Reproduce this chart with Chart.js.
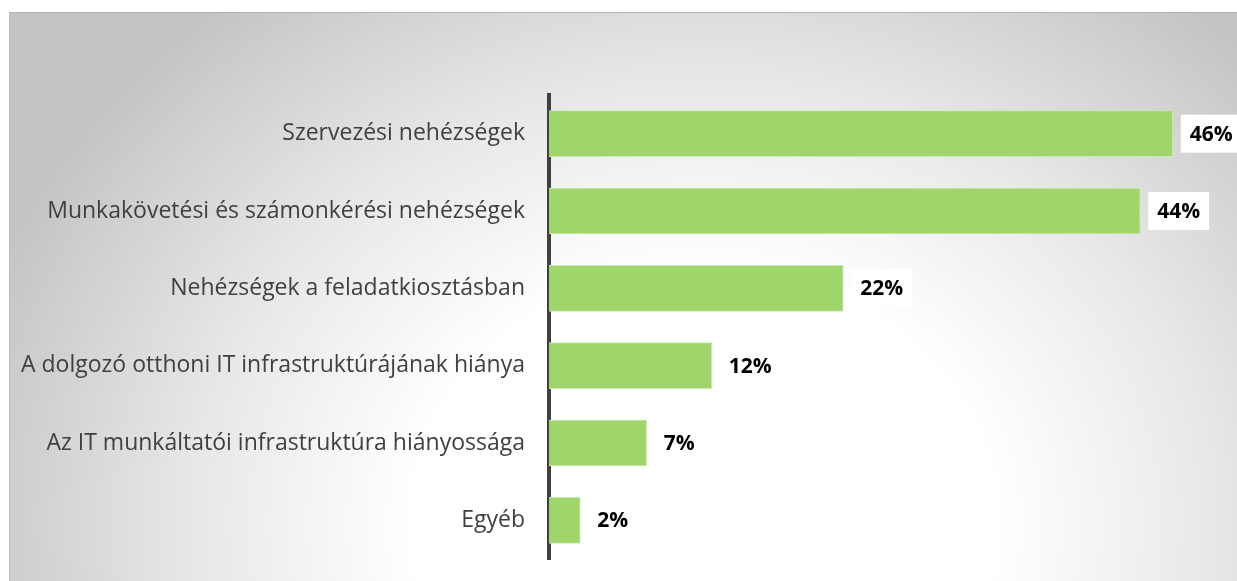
<!DOCTYPE html>
<html>
<head>
<meta charset="utf-8">
<script src="https://cdn.jsdelivr.net/npm/chart.js@4/dist/chart.umd.min.js"></script>
<style>
    html, body { margin: 0; padding: 0; background: #fff; }
    #wrap { position: relative; width: 1237px; height: 581px; overflow: hidden; }
    #panel {
        position: absolute; left: 9px; top: 12px; width: 1240px; height: 580px;
        background: radial-gradient(ellipse 62% 115% at 56% 88%, #ffffff 0%, #ffffff 38%, #e8e8e8 66%, #c4c4c4 100%);
        border-top: 1px solid #b4b4b4;
        border-left: 1px solid #bdbdbd;
    }
    #chart { position: absolute; left: 0; top: 0; }
</style>
</head>
<body>
<div id="wrap">
    <div id="panel"></div>
    <canvas id="chart" width="1237" height="581"></canvas>
</div>
<script>
// categories and values
const categories = [
    'Szervezési nehézségek',
    'Munkakövetési és számonkérési nehézségek',
    'Nehézségek a feladatkiosztásban',
    'A dolgozó otthoni IT infrastruktúrájának hiánya',
    'Az IT munkáltatói infrastruktúra hiányossága',
    'Egyéb'
];
const shares = [46, 43.6, 21.7, 12, 7.2, 2.3];

const axisLeft = 549;

// Draw the % labels with a white box behind them
const valueLabels = {
    id: 'valueLabels',
    afterDatasetsDraw(chart) {
        const ctx = chart.ctx;
        const meta = chart.getDatasetMeta(0);
        ctx.save();
        ctx.font = 'bold 21px "Open Sans"';
        ctx.textBaseline = 'middle';
        ctx.textAlign = 'left';
        meta.data.forEach((bar, i) => {
            const txt = Math.round(shares[i]) + '%';
            const x = bar.x + 17;
            const w = ctx.measureText(txt).width;
            ctx.fillStyle = '#ffffff';
            ctx.fillRect(x - 9, bar.y - 19, w + 18, 38);
            ctx.fillStyle = '#000000';
            ctx.fillText(txt, x, bar.y + 1);
        });
        ctx.restore();
    }
};

const ctx = document.getElementById('chart').getContext('2d');
new Chart(ctx, {
    type: 'bar',
    data: {
        labels: categories,
        datasets: [{
            data: shares,
            backgroundColor: '#a0d56b',
            borderColor: '#cbe9b3',
            borderWidth: 1,
            barThickness: 46
        }]
    },
    options: {
        indexAxis: 'y',
        responsive: false,
        animation: false,
        layout: { padding: { top: 95, bottom: 22, right: 10, left: 0 } },
        plugins: {
            legend: { display: false },
            tooltip: { enabled: false }
        },
        scales: {
            x: { display: false, min: 0, max: 50 },
            y: {
                z: 1,
                grid: { display: false, drawTicks: false },
                border: { display: true, color: '#404040', width: 4 },
                ticks: {
                    color: '#404040',
                    font: { family: 'Open Sans', size: 23 },
                    padding: 24
                },
                afterFit(scale) {
                    scale.width = axisLeft;
                    // keep the label size from eating into the plot height
                    scale.paddingTop = 0;
                    scale.paddingBottom = 0;
                }
            }
        }
    },
    plugins: [valueLabels]
});
</script>
</body>
</html>
